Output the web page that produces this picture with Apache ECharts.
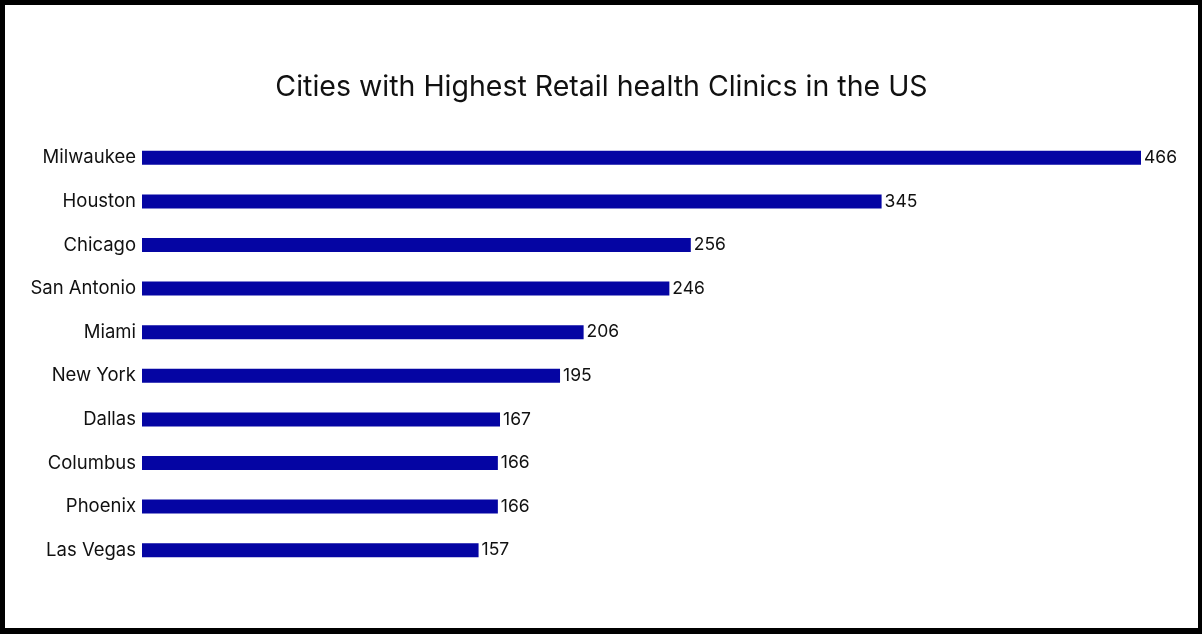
<!DOCTYPE html>
<html>
<head>
<meta charset="utf-8">
<script src="https://cdn.jsdelivr.net/npm/echarts@6/dist/echarts.min.js"></script>
<style>
  html, body { margin: 0; padding: 0; background: #000; width: 1202px; height: 634px; overflow: hidden; }
  #main { position: absolute; left: 5px; top: 5px; width: 1193px; height: 623px; background: #fff; }
</style>
</head>
<body>
<div id="main"></div>
<script>
const titleText = 'Cities with Highest Retail health Clinics in the US';
const cities = ['Milwaukee', 'Houston', 'Chicago', 'San Antonio', 'Miami', 'New York', 'Dallas', 'Columbus', 'Phoenix', 'Las Vegas'];
const clinics = [466, 345, 256, 246, 206, 195, 167, 166, 166, 157];

const FONT = 'Inter, "Noto Sans", sans-serif';
const chart = echarts.init(document.getElementById('main'));
chart.setOption({
  backgroundColor: '#fff',
  animation: false,
  title: {
    text: titleText,
    left: 'center',
    top: 68,
    padding: 0,
    textStyle: { fontFamily: FONT, fontSize: 28.5, fontWeight: 'normal', color: '#111' }
  },
  grid: { left: 137, right: 57, top: 131, bottom: 56, containLabel: false },
  xAxis: {
    type: 'value', min: 0, max: 466,
    show: false,
    splitLine: { show: false }
  },
  yAxis: {
    type: 'category',
    data: cities,
    inverse: true,
    axisLine: { show: false },
    axisTick: { show: false },
    axisLabel: { fontFamily: FONT, fontSize: 18.5, color: '#111', margin: 6 }
  },
  series: [{
    type: 'bar',
    data: clinics,
    barWidth: 14,
    itemStyle: { color: '#0505a3' },
    label: {
      show: true, position: 'right', distance: 3,
      fontFamily: FONT, fontSize: 17.5, color: '#111'
    }
  }]
});
</script>
</body>
</html>
